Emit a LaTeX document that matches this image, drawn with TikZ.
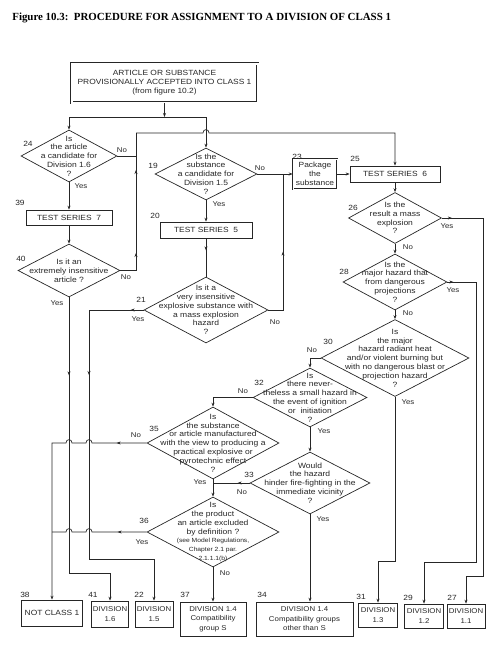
\documentclass[tikz,border=0pt]{standalone}
\usepackage{fontspec}
\setmainfont[FakeStretch=1.12]{Liberation Sans}
\newfontfamily\titlefont{Liberation Serif}
\usetikzlibrary{shapes.geometric,arrows.meta,decorations.markings}
\tikzset{
  flow/.tip={Stealth[length=4pt,width=3pt]},
  arr/.style={-flow},
  midarr/.style={postaction={decorate,decoration={markings,mark=at position #1 with {\arrow{flow}}}}},
  dia/.style 2 args={diamond,draw,minimum width=#1,minimum height=#2,inner sep=0pt},
  qtxt/.style={align=center,inner sep=0pt,font=\fontsize{7.6}{8.8}\selectfont},
  stepbox/.style 2 args={rectangle,draw,minimum width=#1,minimum height=#2,inner sep=0pt,align=center,font=\fontsize{7.5}{9}\selectfont},
  divbox/.style 2 args={stepbox={#1}{#2},font=\fontsize{7}{9.5}\selectfont},
  num/.style={inner sep=0pt,font=\fontsize{7.5}{8}\selectfont},
  yn/.style={inner sep=0pt,font=\fontsize{7}{8}\selectfont}
}
\begin{document}
\begin{tikzpicture}[x=1pt,y=-1pt,line width=0.7pt,color=black!85]
\useasboundingbox (0,0) rectangle (500,653);
\node[anchor=west,inner sep=0pt,text=black,font=\titlefont\fontsize{10.9}{12}\selectfont\bfseries] (title) at (12,18)
  {Figure 10.3:\ \ PROCEDURE FOR ASSIGNMENT TO A DIVISION OF CLASS 1};

% start and tests
\node[stepbox={186}{39},double,double distance=2pt] (start) at (164.5,83)
  {ARTICLE OR SUBSTANCE\\PROVISIONALLY ACCEPTED INTO CLASS 1\\(from figure 10.2)};
\node[stepbox={86}{15}] (b39) at (69,217.5) {TEST SERIES\ \ 7};
\node[stepbox={92}{16}] (b20) at (206,230) {TEST SERIES\ \ 5};
\node[stepbox={44}{30},double,double distance=1pt,line width=0.6pt] (b23) at (315,174) {Package\\the\\substance};
\node[stepbox={90}{16}] (b25) at (395,174) {TEST SERIES\ \ 6};

% questions
\node[dia={96}{52}] (d24) at (69,156) {};
\node[qtxt] (t24) at (d24) {Is\\the article\\a candidate for\\Division 1.6\\?};
\node[dia={102}{53}] (d40) at (69,270.5) {};
\node[qtxt] (t40) at (d40) {Is it an\\extremely insensitive\\article ?};
\node[dia={102}{52}] (d19) at (206,174) {};
\node[qtxt] (t19) at (d19) {Is the\\substance\\a candidate for\\Division 1.5\\?};
\node[dia={124}{66}] (d21) at (206,310) {};
\node[qtxt] (t21) at (d21) {Is it a\\very insensitive\\explosive substance with\\a mass explosion\\hazard\\?};
\node[dia={93}{51}] (d26) at (395,218) {};
\node[qtxt] (t26) at (d26) {Is the\\result a mass\\explosion\\?};
\node[dia={104}{56}] (d28) at (395,282) {};
\node[qtxt] (t28) at (d28) {Is the\\major hazard that\\from dangerous\\projections\\?};
\node[dia={148}{77}] (d30) at (395,358) {};
\node[qtxt] (t30) at (d30) {Is\\the major\\hazard radiant heat\\and/or violent burning but\\with no dangerous blast or\\projection hazard\\?};
\node[dia={114}{59}] (d32) at (310,397.5) {};
\node[qtxt] (t32) at (d32) {Is\\there never-\\theless a small hazard in\\the event of ignition\\or\ \ initiation\\?};
\node[dia={132}{72}] (d35) at (213,443) {};
\node[qtxt] (t35) at (d35) {Is\\the substance\\or article manufactured\\with the view to producing a\\practical explosive or\\pyrotechnic effect\\?};
\node[dia={120}{62}] (d33) at (310,483) {};
\node[qtxt] (t33) at (d33) {Would\\the hazard\\hinder fire-fighting in the\\immediate vicinity\\?};
\node[dia={132}{70}] (d36) at (213,532) {};
\node[qtxt] (t36) at (d36) {Is\\the product\\an article excluded\\by definition ?\\{\fontsize{6}{8.8}\selectfont (see Model Regulations,}\\{\fontsize{6}{8.8}\selectfont Chapter 2.1 par.}\\{\fontsize{6}{8.8}\selectfont 2.1.1.1(b)}};

% results
\node[divbox={61}{26},font=\fontsize{7.5}{9.5}\selectfont] (b38) at (52,613) {NOT CLASS 1};
\node[divbox={37}{26}] (b41) at (110,614) {DIVISION\\1.6};
\node[divbox={38}{26}] (b22) at (154,614) {DIVISION\\1.5};
\node[divbox={66}{34}] (b37) at (213,619) {DIVISION 1.4\\Compatibility\\group S};
\node[divbox={97}{34}] (b34) at (304.5,619) {DIVISION 1.4\\Compatibility groups\\other than S};
\node[divbox={39}{24}] (b31) at (378,615) {DIVISION\\1.3};
\node[divbox={39}{24}] (b29) at (424,616) {DIVISION\\1.2};
\node[divbox={38}{24}] (b27) at (466,616) {DIVISION\\1.1};

\foreach \n/\x/\y in {24/28/144, 39/20/203, 40/21/259, 19/153/166, 20/155/216, 21/141/300,
  23/297/157, 25/355/159, 26/353/208, 28/344/272, 30/328/342, 32/259/383, 35/154/429,
  33/249/475, 36/144/521, 38/25/595, 41/93/595, 22/139/595, 37/185/595, 34/262/595,
  31/361/597, 29/408/598, 27/452/598}
  \node[num] (n\n) at (\x,\y) {\n};
\foreach \d/\t/\x/\y in {24/No/122/150, 24/Yes/81/186, 40/No/126/277, 40/Yes/57/303,
  19/No/260/168, 19/Yes/219/204, 21/Yes/138/319, 21/No/275/322, 26/Yes/447/226,
  26/No/408/247, 28/Yes/453/290, 28/No/408/313, 30/No/312/350, 30/Yes/408/402,
  32/No/243/391, 32/Yes/324/431, 35/No/136/435, 35/Yes/200/482, 33/No/242/492,
  33/Yes/323/519, 36/Yes/142/542, 36/No/225/573}
  \node[yn] (\t\d) at (\x,\y) {\t};

% connectors
\coordinate (jtop) at (164.5,117);
\coordinate (c40) at (136,270.5);
\coordinate (c133) at (136,133);
\draw[arr] (start.south) -- (jtop);
\draw (d24.north |- jtop) -- (d19.north |- jtop);
\draw[arr] (d24.north |- jtop) -- (d24.north);
\draw[arr] (d19.north |- jtop) -- (d19.north);
\draw[arr] (d24.south) -- (b39.north);
\draw[arr] (b39.south) -- (d40.north);
\draw (d24.east) -- (d24.east -| c40);
\draw (d40.east) -- (c40);
\draw[midarr=17.5pt,midarr=100.5pt] (c40) -- (c133);
\draw[arr] (c133) -- (203,133) .. controls (203,128.5) and (209,128.5) .. (209,133)
  -- (b25.north |- c133) -- (b25.north);
\draw[arr] (d19.south) -- (b20.north);
\draw[midarr=12pt] (b20.south) -- (d21.north);
\draw[arr] (d19.east) -- (b23.west);
\draw[arr] (b23.east) -- (b25.west);
\draw[midarr=73pt] (d21.east) -- (283,310) -- (283,174);
\draw[arr] (b25.south) -- (d26.north);
\draw[arr] (d26.south) -- (d28.north);
\draw[arr] (d28.south) -- (d30.north);
\draw[arr,midarr=10pt] (d26.east) -- (483,218) -- (483,576) -- (b27.north |- 0,576) -- (b27.north);
\draw[arr,midarr=6pt] (d28.east) -- (476,282) -- (476,562) -- (b29.north |- 0,562) -- (b29.north);
\draw[arr] (d30.south) -- (395,561) -- (b31.north |- 0,561) -- (b31.north);
\draw[arr] (d30.west) -- (d32.north |- d30.west) -- (d32.north);
\draw[arr] (d32.south) -- (d33.north);
\draw[arr] (d32.west) -- (d35.north |- d32.west) -- (d35.north);
\draw[arr] (d35.south) -- (d36.north);
\draw[midarr=12pt] (d33.west) -- (d35.south |- d33.west);
\draw[arr] (d33.south) -- (d33.south |- b34.north);
\draw[arr] (d36.south) -- (b37.north);
\draw[arr,midarr=78pt] (d40.south) -- (69,573) -- (b41.north |- 0,573) -- (b41.north);
\draw[midarr=13pt] (d21.west) -- (89,310);
\draw[arr,midarr=65pt] (89,310) -- (89,559) -- (b22.north |- 0,559) -- (b22.north);
\draw[arr,midarr=30pt] (d35.west) -- (92,443) .. controls (92,438.5) and (86,438.5) .. (86,443)
  -- (72,443) .. controls (72,438.5) and (66,438.5) .. (66,443) -- (52,443) -- (b38.north);
\draw[midarr=29pt] (d36.west) -- (92,532) .. controls (92,527.5) and (86,527.5) .. (86,532)
  -- (72,532) .. controls (72,527.5) and (66,527.5) .. (66,532) -- (52,532);
\end{tikzpicture}
\end{document}
